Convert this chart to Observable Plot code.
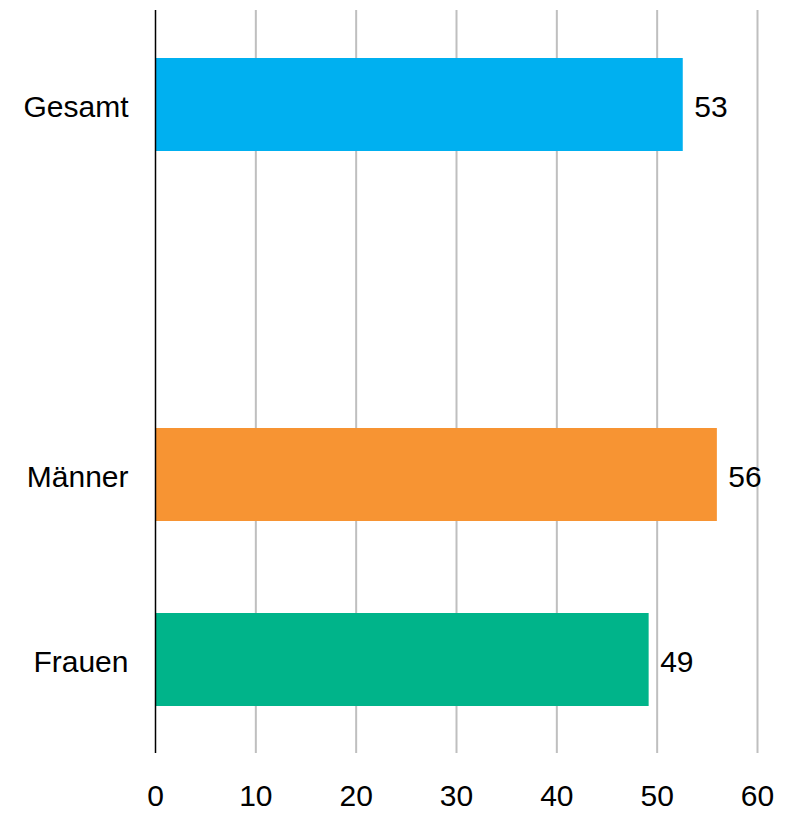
<!DOCTYPE html>
<html><head><meta charset="utf-8">
<script src="https://cdn.jsdelivr.net/npm/d3@7"></script>
<script src="https://cdn.jsdelivr.net/npm/@observablehq/plot@0.6"></script>
<style>body{margin:0;background:#fff}</style>
</head><body><div id="chart"></div>
<script>
const categories = ["Gesamt", "Männer", "Frauen"];
const values = [52.6, 56.0, 49.2];
const labels = ["53", "56", "49"];
const colors = ["#00B0F0", "#F79433", "#00B48A"];
const yDomain = ["Gesamt", " ", "Männer", "Frauen"];
const xTicks = [0, 10, 20, 30, 40, 50, 60];

const data = categories.map((c, i) => ({category: c, value: values[i], label: labels[i]}));

const chart = Plot.plot({
  width: 785, height: 813,
  marginLeft: 155, marginRight: 28, marginTop: 10, marginBottom: 60,
  style: {fontFamily: "'Liberation Sans', Arial, sans-serif", fontSize: "30px", color: "#000", background: "#fff", overflow: "visible"},
  x: {domain: [0, 60]},
  y: {domain: yDomain, paddingInner: 0.5, paddingOuter: 0.25},
  color: {domain: categories, range: colors},
  marks: [
    Plot.gridX(xTicks.filter(d => d > 0), {stroke: "#BFBFBF", strokeOpacity: 1, strokeWidth: 2}),
    Plot.barX(data, {x: "value", y: "category", fill: "category"}),
    Plot.ruleX([0], {stroke: "#000", strokeWidth: 1.5}),
    Plot.text(data, {x: "value", y: "category", text: "label", textAnchor: "start", dx: 11, dy: 2, fontSize: 30, fill: "#000"}),
    Plot.axisX({ticks: xTicks, tickSize: 0, tickPadding: 31, fontSize: 30, tickFormat: d => String(d), label: null}),
    Plot.axisY({tickSize: 0, tickPadding: 27, fontSize: 30, dy: 2, label: null})
  ]
});
document.getElementById("chart").appendChild(chart);
</script>
</body></html>
